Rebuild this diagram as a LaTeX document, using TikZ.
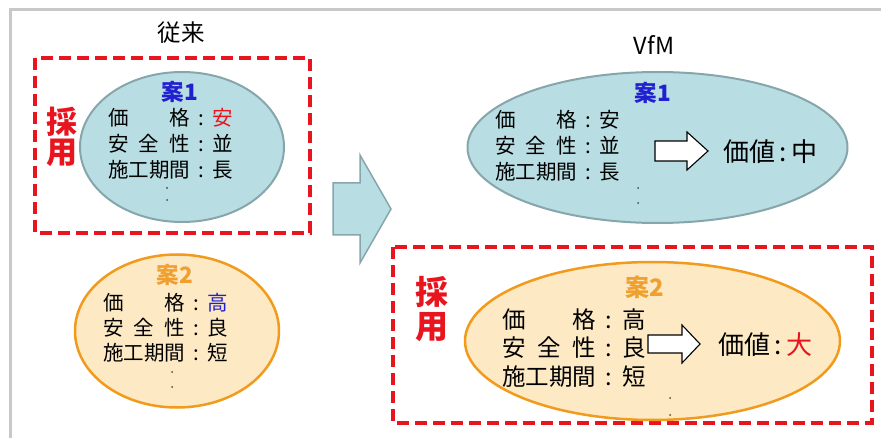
\documentclass[tikz,border=0pt]{standalone}
\usepackage{fontspec}
\setmainfont{Noto Sans CJK JP}
\usetikzlibrary{shapes.geometric}
\definecolor{lblue}{HTML}{B8DDE2}
\definecolor{lblueedge}{HTML}{86A6AC}
\definecolor{lorange}{HTML}{FDEAC4}
\definecolor{orangeedge}{HTML}{F29A1C}
\definecolor{orangetxt}{HTML}{F0A030}
\definecolor{redc}{HTML}{E8141E}
\definecolor{bluetxt}{HTML}{2020D0}
\definecolor{framegray}{HTML}{C8C8C8}
\newcommand\kvrow[2]{\makebox[4em][s]{#1}\makebox[1.1em][c]{:}#2}
\newcommand\twospread[2]{#1\hfill{}#2}
\newcommand\threespread[3]{#1\hfill{}#2\hfill{}#3}
\begin{document}
\begin{tikzpicture}[x=1pt,y=-1pt,
  blueell/.style={ellipse, draw=lblueedge, line width=2pt, fill=lblue, inner sep=0pt},
  orangeell/.style={ellipse, draw=orangeedge, line width=2.5pt, fill=lorange, inner sep=0pt},
  redbox/.style={draw=redc, line width=3.5pt, dash pattern=on 12pt off 6pt},
  rowsmall/.style={font=\fontsize{20.5}{24}\selectfont, inner sep=0pt, anchor=west},
  rowbig/.style={font=\fontsize{23.5}{28}\selectfont, inner sep=0pt, anchor=west},
  title/.style={font=\fontsize{23.5}{26}\selectfont, inner sep=0pt},
  plan/.style={font=\bfseries\fontsize{22.5}{26}\selectfont, inner sep=0pt},
  adopt/.style={font=\bfseries\fontsize{#1}{#1}\selectfont, text=redc, inner sep=0pt},
  valuetxt/.style={font=\fontsize{26}{30}\selectfont, inner sep=0pt},
  dotmark/.style={circle, fill=black!70, inner sep=0pt, minimum size=2pt},
  hollowarrow/.style={draw=black, line width=1.1pt, fill=white, line join=miter}
]
\useasboundingbox (0,0) rectangle (881,438);
% frame
\draw[framegray, line width=3pt] (10,438) -- (10,10) -- (881,10);

% titles
\node[title] (t1) at (181,33) {従来};
\node[title] (t2) at (654,45) {VfM};

% left dashed box
\draw[redbox] (35,58) rectangle (310,233);
\node[adopt=31] (a1) at (62,122) {採};
\node[adopt=31] (a2) at (62,153) {用};

% left plan 1
\node[blueell, minimum width=204pt, minimum height=150pt] (e1) at (182,147) {};
\node[plan, text=bluetxt] (p1) at (180,92) {案1};
\node[rowsmall] (r11) at (108,118) {\kvrow{\twospread{価}{格}}{\textcolor{redc}{安}}};
\node[rowsmall] (r12) at (108,144) {\kvrow{\threespread{安}{全}{性}}{並}};
\node[rowsmall] (r13) at (108,170) {\kvrow{施工期間}{長}};
\node[dotmark] (d11) at (167,188) {};
\node[dotmark] (d12) at (167,200) {};

% left plan 2
\node[orangeell, minimum width=204pt, minimum height=153pt] (e2) at (177,331) {};
\node[plan, text=orangetxt] (p2) at (175,275) {案2};
\node[rowsmall] (r21) at (103,303) {\kvrow{\twospread{価}{格}}{\textcolor{bluetxt}{高}}};
\node[rowsmall] (r22) at (103,328) {\kvrow{\threespread{安}{全}{性}}{良}};
\node[rowsmall] (r23) at (103,353) {\kvrow{施工期間}{短}};
\node[dotmark] (d21) at (172,372) {};
\node[dotmark] (d22) at (172,387) {};

% big arrow
\draw[draw=lblueedge, fill=lblue, line width=1.5pt, line join=miter]
  (333,183) -- (360,183) -- (360,155) -- (391,209) -- (360,263) -- (360,235) -- (333,235) -- cycle;

% VfM plan 1
\node[blueell, minimum width=380pt, minimum height=151pt] (e3) at (657.5,147.5) {};
\node[plan, text=bluetxt] (p3) at (653,93) {案1};
\node[rowsmall] (r31) at (495,120) {\kvrow{\twospread{価}{格}}{安}};
\node[rowsmall] (r32) at (495,146) {\kvrow{\threespread{安}{全}{性}}{並}};
\node[rowsmall] (r33) at (495,172) {\kvrow{施工期間}{長}};
\node[dotmark] (d31) at (638,188) {};
\node[dotmark] (d32) at (638,203) {};
\draw[hollowarrow] (655,141) -- (687,141) -- (687,132) -- (708,151) -- (687,170) -- (687,161) -- (655,161) -- cycle;
\node[valuetxt, anchor=west] (v1) at (723,152) {価値\,:\,中};

% right dashed box
\draw[redbox] (393,247) rectangle (872,423);
\node[adopt=33] (a3) at (432,292) {採};
\node[adopt=33] (a4) at (432,327) {用};

% VfM plan 2
\node[orangeell, minimum width=375pt, minimum height=158pt] (e4) at (652.5,341) {};
\node[plan, text=orangetxt, font=\bfseries\fontsize{24}{28}\selectfont] (p4) at (645,287) {案2};
\node[rowbig] (r41) at (502,320) {\kvrow{\twospread{価}{格}}{高}};
\node[rowbig] (r42) at (502,348) {\kvrow{\threespread{安}{全}{性}}{良}};
\node[rowbig] (r43) at (502,377) {\kvrow{施工期間}{短}};
\node[dotmark] (d41) at (670,398) {};
\node[dotmark] (d42) at (670,415) {};
\draw[hollowarrow] (648,335) -- (682,335) -- (682,325) -- (700,344) -- (682,363) -- (682,353) -- (648,353) -- cycle;
\node[valuetxt, anchor=west] (v2) at (718,345) {価値\,:\,\textcolor{redc}{大}};
\end{tikzpicture}
\end{document}
